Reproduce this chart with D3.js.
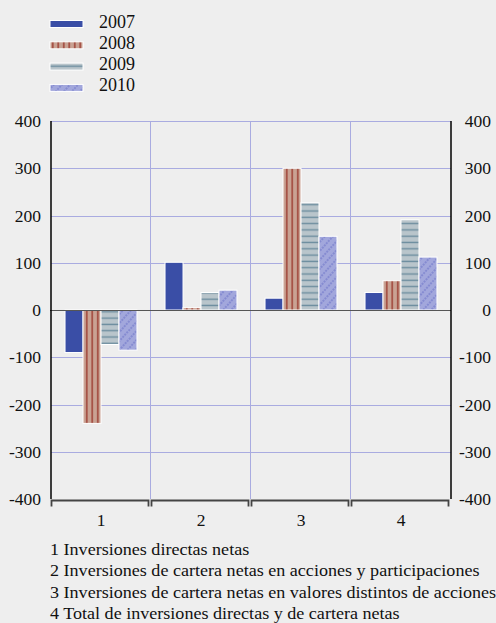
<!DOCTYPE html>
<html lang="es">
<head>
<meta charset="UTF-8">
<title>Inversiones netas</title>
<style>
  body { margin: 0; background: #eeeeee; }
  svg { display: block; }
  svg text { font-family: "Liberation Serif", "Times New Roman", serif; }
</style>
</head>
<body>
<script src="https://d3js.org/d3.v7.min.js"></script>
<script>
// data
var categories = ["1", "2", "3", "4"];
var years = ["2007", "2008", "2009", "2010"];
var v2007 = [-90, 101, 25, 37];
var v2008 = [-240, 5, 300, 62];
var v2009 = [-73, 37, 227, 191];
var v2010 = [-85, 42, 156, 112];
var yTicks = [-400, -300, -200, -100, 0, 100, 200, 300, 400];
var notes = [
  "1 Inversiones directas netas",
  "2 Inversiones de cartera netas en acciones y participaciones",
  "3 Inversiones de cartera netas en valores distintos de acciones",
  "4 Total de inversiones directas y de cartera netas"
];

var series = [v2007, v2008, v2009, v2010];

var W = 496, H = 623;
var plotL = 51, plotR = 451, plotT = 121, plotB = 499;

var svg = d3.select("body").append("svg")
    .attr("width", W).attr("height", H);

svg.append("rect").attr("width", W).attr("height", H).attr("fill", "#eeeeee");

// patterns
var defs = svg.append("defs");
var p8 = defs.append("pattern").attr("id", "p2008")
    .attr("patternUnits", "userSpaceOnUse").attr("width", 5.5).attr("height", 10);
p8.append("rect").attr("width", 5.5).attr("height", 10).attr("fill", "#c9a293");
p8.append("line").attr("x1", 2.75).attr("x2", 2.75).attr("y1", 0).attr("y2", 10)
    .attr("stroke", "#9b3a2f").attr("stroke-width", 1.4);

var p9 = defs.append("pattern").attr("id", "p2009")
    .attr("patternUnits", "userSpaceOnUse").attr("width", 10).attr("height", 6.3);
p9.append("rect").attr("width", 10).attr("height", 6.3).attr("fill", "#b9c5cb");
p9.append("line").attr("x1", 0).attr("x2", 10).attr("y1", 3.1).attr("y2", 3.1)
    .attr("stroke", "#6c8d9e").attr("stroke-width", 1.4);

var p10 = defs.append("pattern").attr("id", "p2010")
    .attr("patternUnits", "userSpaceOnUse").attr("width", 6).attr("height", 6)
    .attr("patternTransform", "rotate(42)");
p10.append("rect").attr("width", 6).attr("height", 6).attr("fill", "#a2a7dc");
p10.append("line").attr("x1", 3).attr("x2", 3).attr("y1", 0).attr("y2", 6)
    .attr("stroke", "#5b62c0").attr("stroke-width", 0.8).attr("stroke-dasharray", "2,1");

var fills = ["#3a4ea6", "url(#p2008)", "url(#p2009)", "url(#p2010)"];

// scales
var x0 = d3.scaleBand().domain(categories).range([plotL, plotR]);
var x1 = d3.scaleBand().domain(years).range([0, x0.bandwidth()]).paddingOuter(0.78);
var y = d3.scaleLinear().domain([-400, 400]).range([plotB, plotT]);

// grid
var grid = svg.append("g");
grid.selectAll("line.h").data(yTicks.filter(function(d) { return d !== 0 && d !== -400; }))
  .enter().append("line")
    .attr("x1", plotL).attr("x2", plotR)
    .attr("y1", function(d) { return Math.round(y(d)) + 0.5; })
    .attr("y2", function(d) { return Math.round(y(d)) + 0.5; })
    .attr("stroke", "#a9abe0").attr("stroke-width", 1);
grid.selectAll("line.v").data(categories.slice(1))
  .enter().append("line")
    .attr("x1", function(d) { return Math.round(x0(d)) - 0.5; })
    .attr("x2", function(d) { return Math.round(x0(d)) - 0.5; })
    .attr("y1", plotT).attr("y2", plotB)
    .attr("stroke", "#a9abe0").attr("stroke-width", 1);

// bars
svg.append("g").selectAll("g")
    .data(categories)
  .enter().append("g")
    .attr("transform", function(c) { return "translate(" + x0(c) + ",0)"; })
  .selectAll("rect")
    .data(function(c, i) { return series.map(function(s, j) { return {year: years[j], v: s[i], k: j}; }); })
  .enter().append("rect")
    .attr("x", function(d) { return x1(d.year); })
    .attr("width", x1.bandwidth())
    .attr("y", function(d) { return y(Math.max(0, d.v)); })
    .attr("height", function(d) { return Math.abs(y(d.v) - y(0)); })
    .attr("fill", function(d) { return fills[d.k]; })
    .attr("stroke", "#ffffff").attr("stroke-width", 1);

// zero line
svg.append("line")
    .attr("x1", plotL - 1).attr("x2", plotR)
    .attr("y1", Math.round(y(0)) + 0.5).attr("y2", Math.round(y(0)) + 0.5)
    .attr("stroke", "#555555").attr("stroke-width", 1.2);

// vertical axes
[plotL, plotR].forEach(function(xx) {
  svg.append("line")
      .attr("x1", xx).attr("x2", xx).attr("y1", plotT).attr("y2", plotB)
      .attr("stroke", "#000").attr("stroke-width", 1.5);
});

// bottom bracket axis
var bAxis = svg.append("g");
categories.forEach(function(c) {
  var a = x0(c) + 0.5, b = x0(c) + x0.bandwidth() - 2.5, yy = plotB + 1.5;
  bAxis.append("path")
      .attr("d", "M" + a + "," + (yy + 6) + "V" + yy + "H" + b + "V" + (yy + 6))
      .attr("fill", "none").attr("stroke", "#444").attr("stroke-width", 1.8);
});

// tick labels
svg.append("g").selectAll("text").data(yTicks).enter().append("text")
    .attr("x", 41).attr("y", function(d) { return y(d); }).attr("dy", "0.35em")
    .attr("text-anchor", "end").attr("font-size", 17.5).attr("fill", "#111")
    .text(function(d) { return d; });
svg.append("g").selectAll("text").data(yTicks).enter().append("text")
    .attr("x", 491).attr("y", function(d) { return y(d); }).attr("dy", "0.35em")
    .attr("text-anchor", "end").attr("font-size", 17.5).attr("fill", "#111")
    .text(function(d) { return d; });
svg.append("g").selectAll("text").data(categories).enter().append("text")
    .attr("x", function(d) { return x0(d) + x0.bandwidth() / 2; }).attr("y", 526)
    .attr("text-anchor", "middle").attr("font-size", 17.5).attr("fill", "#111")
    .text(function(d) { return d; });

// legend
var lg = svg.append("g").selectAll("g").data(years).enter().append("g")
    .attr("transform", function(d, i) { return "translate(50," + (20.5 + i * 21.3) + ")"; });
lg.append("rect").attr("width", 33).attr("height", 7)
    .attr("fill", function(d, i) { return fills[i]; })
    .attr("stroke", "#fff").attr("stroke-width", 1);
lg.append("text").attr("x", 49).attr("y", 7).attr("font-size", 18).attr("fill", "#111")
    .text(function(d) { return d; });

// footnotes, stretched a bit: the original lettering is wider than Liberation Serif
svg.append("g").attr("transform", "translate(50,0) scale(1.13,1)")
  .selectAll("text").data(notes).enter().append("text")
    .attr("x", 0).attr("y", function(d, i) { return 555 + i * 21.3; })
    .attr("font-size", 16).attr("fill", "#111")
    .text(function(d) { return d; });
</script>
</body>
</html>
